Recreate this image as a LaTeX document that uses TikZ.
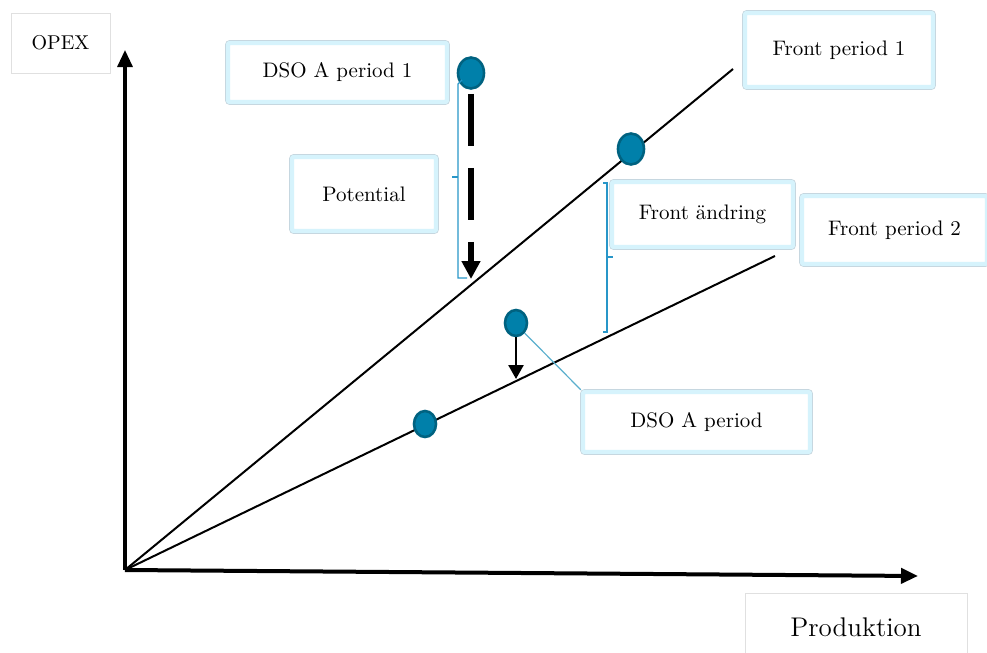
\documentclass[tikz,border=0pt]{standalone}
\usetikzlibrary{arrows.meta,shapes.geometric}
\definecolor{boxcyan}{RGB}{214,243,252}
\definecolor{boxedge}{RGB}{196,212,220}
\definecolor{dotfill}{RGB}{0,128,170}
\definecolor{dotedge}{RGB}{0,98,128}
\definecolor{bracecolor}{RGB}{40,150,200}
\definecolor{calloutcolor}{RGB}{90,175,205}
\tikzset{
  infobox/.style={rectangle, fill=white, draw=boxcyan, line width=2.2pt, rounded corners=1pt,
    preaction={draw=boxedge, line width=2.9pt}, inner sep=0pt, align=center,
    font=\fontsize{10.5}{12.6}\selectfont},
  plainbox/.style={rectangle, draw=black!12, line width=0.5pt, fill=white, inner sep=0pt, align=center,
    font=\fontsize{10}{12}\selectfont},
  datadot/.style={ellipse, fill=dotfill, draw=dotedge, line width=1.3pt, inner sep=0pt,
    minimum width=13pt, minimum height=15.5pt},
  smalldot/.style={datadot, minimum width=11pt, minimum height=13pt},
  axisarrow/.style={-{Triangle[length=8.5pt,width=7.5pt]}, line width=1.6pt},
  frontline/.style={line width=1pt},
  potarrow/.style={-{Triangle[length=9pt,width=9pt]}, line width=3pt, dash pattern=on 26pt off 11pt},
  droparrow/.style={-{Triangle[length=7pt,width=7.5pt]}, line width=1.3pt},
  brace/.style={bracecolor, line width=0.6pt},
}
\begin{document}
\begin{tikzpicture}[x=0.5pt, y=-0.5pt]
\useasboundingbox (0,0) rectangle (987,653);

% axes
\coordinate (O) at (125,570);
\coordinate (ytip) at (125,50);
\coordinate (xtip) at (918,576);
\draw[axisarrow] (O) -- (ytip);
\draw[axisarrow, line width=2pt] (O) -- (xtip);

% the two fronts
\coordinate (f1end) at (733,69);
\coordinate (f2end) at (775,256);
\draw[frontline] (O) -- (f1end);
\draw[frontline] (O) -- (f2end);

% labels
\node[plainbox, minimum width=49.5pt, minimum height=30pt] (opex) at (60.5,43) {OPEX};
\node[plainbox, minimum width=111pt, minimum height=34pt, font=\fontsize{13.5}{16}\selectfont] (prod) at (856,627) {Produktion};
\node[infobox, minimum width=109.5pt, minimum height=29.5pt] (dsoone) at (337.5,72.5) {DSO A period 1};
\node[infobox, minimum width=72pt, minimum height=37pt] (potential) at (364,194) {Potential};
\node[infobox, minimum width=94pt, minimum height=37pt] (frontone) at (839,50) {Front period 1};
\node[infobox, minimum width=90.5pt, minimum height=32.5pt] (frontchg) at (702.5,214.5) {Front ändring};
\node[infobox, minimum width=92.5pt, minimum height=34pt] (fronttwo) at (894.5,230) {Front period 2};
\node[infobox, minimum width=113.5pt, minimum height=30pt] (dsoa) at (696.5,422) {DSO A period};

% points
\node[datadot] (dsoonept) at (471,73) {};
\node[datadot] (frontonept) at (631,149) {};
\node[smalldot] (dsoapt) at (516,323) {};
\node[smalldot] (fronttwopt) at (425,424) {};

% shifts
\coordinate (pottip) at (471,279);
\coordinate (droptip) at (516,379);
\draw[potarrow] ([yshift=-2pt]dsoonept.south) -- (pottip);
\draw[droparrow] (dsoapt.south) -- (droptip);
\draw[calloutcolor, line width=0.6pt] (dsoapt.south east) -- (dsoa.north west);

% brackets
\draw[brace] (462,80) -- (458,84) -- (458,278) -- (467,278);
\draw[brace] (458,177) -- (452,177);
\draw[brace] (603,183) -- (607,183) -- (607,332) -- (603,332);
\draw[brace] (607,257) -- (613,257);

\end{tikzpicture}
\end{document}
